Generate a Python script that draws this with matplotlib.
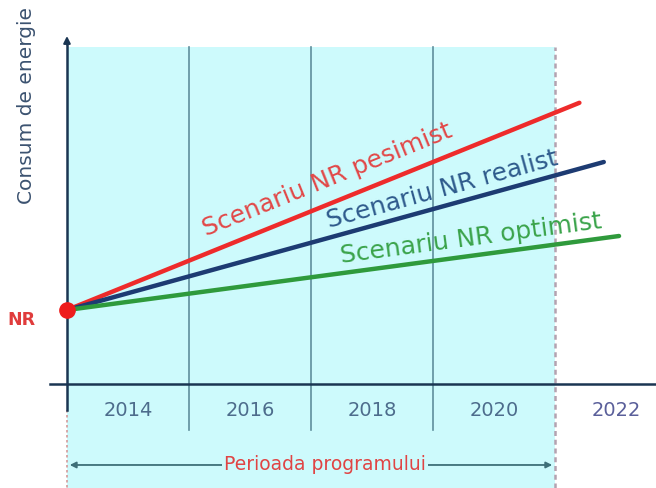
import numpy as np
import matplotlib
matplotlib.use("Agg")
import matplotlib.pyplot as plt
from matplotlib.patches import Rectangle

# ---- data ----
start_year = 2013.0
nr_value = 100.0
scenario_names = ["Scenariu NR pesimist", "Scenariu NR realist", "Scenariu NR optimist"]
scenario_end_years = [2021.4, 2021.8, 2022.05]
scenario_end_values = [380.0, 300.0, 200.0]
line_colors = ["#ee2b2b", "#1d3b72", "#2f9a3c"]
text_colors = ["#e24848", "#2e5a8c", "#3aa34a"]
label_x = [2017.26, 2019.15, 2019.63]
label_y = [276.0, 263.0, 197.0]
tick_years = [2014, 2016, 2018, 2020, 2022]
grid_years = [2015, 2017, 2019]
program_end = 2021.0

fig = plt.figure(figsize=(6.56, 4.88), dpi=100)
ax = fig.add_axes([0, 0, 1, 1])
ax.set_xlim(2011.902, 2022.656)
ax.set_ylim(-140.5, 518.9)
ax.axis("off")

cyan = "#cdfafc"
ax.add_patch(Rectangle((start_year, -140.5), program_end - start_year, 455.3 + 140.5,
                       facecolor=cyan, edgecolor="none", zorder=0))

# grid lines
for gx in grid_years:
    ax.plot([gx, gx], [-62, 455.3], color="#5f8f9c", lw=1.2, zorder=1)
# program end dashed line
ax.plot([program_end, program_end], [-140.5, 455.3], color="#b4a2b0", lw=1.8,
        ls=(0, (2, 1.5)), zorder=1)
# dotted line below axis at start
ax.plot([start_year, start_year], [-35, -140.5], color="#d49a9a", lw=1.2,
        ls=(0, (1.5, 1.5)), zorder=1)

# axes
axis_col = "#1a3552"
ax.plot([2012.72, 2022.656], [0, 0], color=axis_col, lw=1.8, zorder=3)
ax.plot([start_year, start_year], [-35, 460], color=axis_col, lw=1.8, zorder=3)
ax.annotate("", xy=(start_year, 474), xytext=(start_year, 455),
            arrowprops=dict(arrowstyle="-|>", color=axis_col, lw=1.5,
                            mutation_scale=10), zorder=3)

# year labels
for y in tick_years:
    col = "#4d6c8c" if y < 2022 else "#5a5f9a"
    ax.text(y, -36, str(y), ha="center", va="center", fontsize=14, color=col,
            family="DejaVu Sans")

# scenario lines
fig.canvas.draw()
for name, ey, ev, lc, tc, lx, ly in zip(scenario_names, scenario_end_years,
                                         scenario_end_values, line_colors,
                                         text_colors, label_x, label_y):
    ax.plot([start_year, ey], [nr_value, ev], color=lc, lw=3.2,
            solid_capstyle="round", zorder=4)
    p0 = ax.transData.transform((start_year, nr_value))
    p1 = ax.transData.transform((ey, ev))
    ang = np.degrees(np.arctan2(p1[1] - p0[1], p1[0] - p0[0]))
    ax.text(lx, ly, name, rotation=ang, rotation_mode="anchor", ha="center",
            va="center", fontsize=18, color=tc, zorder=5)

# NR point
ax.plot([start_year], [nr_value], "o", color="#ee1c1c", ms=11, zorder=6)
ax.text(2012.25, 86.5, "NR", ha="center", va="center", fontsize=12.5,
        fontweight="bold", color="#e03c3c")

# y label
ax.text(2012.33, 376, "Consum de energie", rotation=90, ha="center", va="center",
        fontsize=14.5, color="#3b5270")

# program period arrow
ax.annotate("", xy=(start_year, -109.4), xytext=(program_end, -109.4),
            arrowprops=dict(arrowstyle="<|-|>", color="#3e6f78", lw=1.3,
                            mutation_scale=9), zorder=3)
ax.text(2017.23, -109.4, "Perioada programului", ha="center", va="center",
        fontsize=13.5, color="#e04444", zorder=4,
        bbox=dict(facecolor=cyan, edgecolor="none", pad=1.5))

fig.savefig("out.png", dpi=100)
